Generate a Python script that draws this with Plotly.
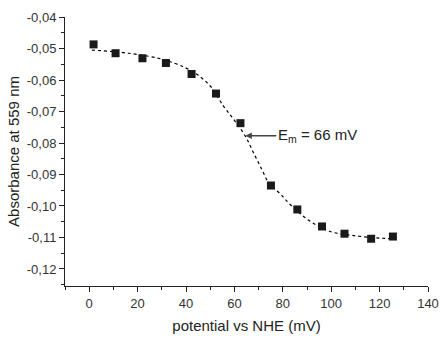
import plotly.graph_objects as go

# measured data
potential_mv = [1.8, 10.9, 22.0, 31.7, 42.3, 52.4, 62.5, 75.1, 86.0, 96.2, 105.5, 116.5, 125.5]
absorbance = [-0.0487, -0.0515, -0.0531, -0.0546, -0.0581, -0.0643, -0.0737, -0.0935,
              -0.1011, -0.1065, -0.1088, -0.1104, -0.1097]

# fitted curve
fit_x = [1.1, 16.2, 30.1, 39.7, 44.5, 50.0, 55.5, 59.7, 64.5, 67.9, 71.4, 74.5, 79.0,
         83.8, 91.4, 99.6, 109.3, 120.3, 125.5]
fit_y = [-0.0505, -0.0515, -0.0534, -0.0561, -0.0582, -0.0619, -0.0683, -0.0725, -0.0778,
         -0.0831, -0.0885, -0.0930, -0.0962, -0.1001, -0.1049, -0.1081, -0.1094, -0.1102,
         -0.1104]

x_ticks = [0, 20, 40, 60, 80, 100, 120, 140]
y_ticks = [-0.12, -0.11, -0.10, -0.09, -0.08, -0.07, -0.06, -0.05, -0.04]
y_ticktext = ["-0,12", "-0,11", "-0,10", "-0,09", "-0,08", "-0,07", "-0,06", "-0,05", "-0,04"]

em_x, em_y = 64.5, -0.0777
em_label = "E<sub>m</sub> = 66 mV"

font_family = "Liberation Sans, Arial, sans-serif"

fig = go.Figure()
fig.add_trace(go.Scatter(x=fit_x, y=fit_y, mode="lines", line_shape="spline",
                         line=dict(color="black", width=1.2, dash="dot"),
                         showlegend=False, hoverinfo="skip"))
fig.add_trace(go.Scatter(x=potential_mv, y=absorbance, mode="markers",
                         marker=dict(symbol="square", size=8, color="#1a1a1a"),
                         showlegend=False))

fig.add_annotation(x=em_x, y=em_y, text=em_label, showarrow=True,
                   ax=31, ay=0, arrowhead=2, arrowsize=1, arrowwidth=1.3,
                   arrowcolor="#444", xanchor="left", yanchor="middle",
                   font=dict(family=font_family, size=15, color="#222"))

axis_common = dict(showline=True, linecolor="#222", linewidth=1, ticks="outside",
                   ticklen=5, tickcolor="#222", showgrid=False, zeroline=False,
                   mirror=False, automargin=False,
                   tickfont=dict(family=font_family, size=13, color="#333"))

fig.update_xaxes(range=[-10, 140], tickvals=x_ticks,
                 minor=dict(dtick=10, tick0=0, ticks="outside", ticklen=3, tickcolor="#222"),
                 title=dict(text="potential vs NHE (mV)",
                            font=dict(family=font_family, size=15, color="#222"), standoff=10),
                 **axis_common)
fig.update_yaxes(range=[-0.1254, -0.04], tickvals=y_ticks, ticktext=y_ticktext,
                 minor=dict(dtick=0.005, tick0=0, ticks="outside", ticklen=3, tickcolor="#222"),
                 title=dict(text="Absorbance at 559 nm",
                            font=dict(family=font_family, size=15, color="#222"), standoff=3),
                 **axis_common)

fig.update_layout(width=442, height=339, margin=dict(l=65, r=14, t=17, b=53),
                  plot_bgcolor="white", paper_bgcolor="white",
                  font=dict(family=font_family))

fig.write_html("out.html", config={"displayModeBar": False},
               post_script="document.body.style.margin='0';document.body.style.overflow='hidden';")
